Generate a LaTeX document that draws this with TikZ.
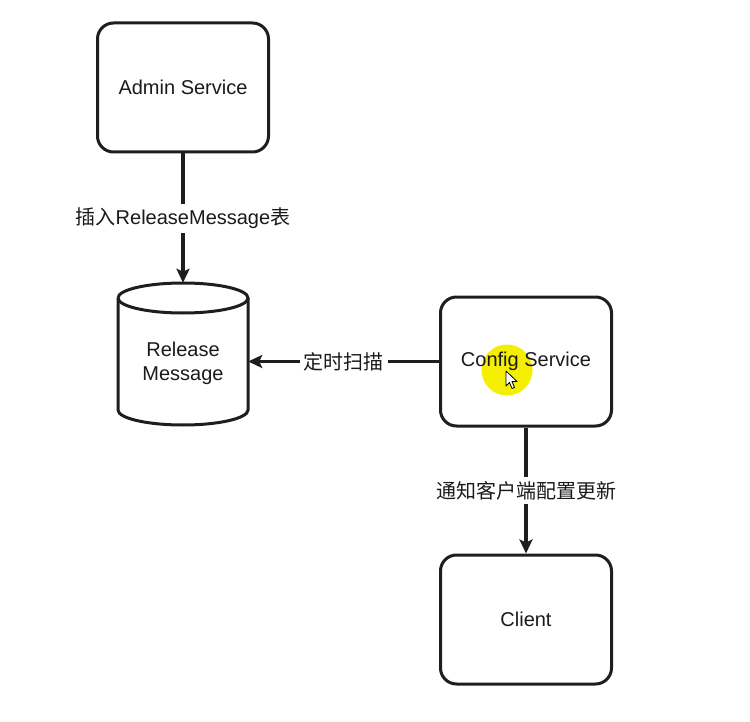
\documentclass[tikz,border=0pt]{standalone}
\usepackage{fontspec}
\setmainfont{Liberation Sans}
\newfontfamily\cjk{Noto Sans CJK SC}
\usetikzlibrary{arrows.meta}
\definecolor{linec}{HTML}{1E1E1E}
\definecolor{textc}{HTML}{1A1A1A}
\definecolor{hilite}{HTML}{F4EE00}
\begin{document}
\begin{tikzpicture}[x=1pt,y=-1pt,
  box/.style={draw=linec, line width=3pt, rounded corners=16pt, minimum width=171pt, minimum height=129pt, font=\fontsize{20}{24}\selectfont, text=textc},
  conn/.style={draw=linec, line width=3.4pt, -{Stealth[length=14pt,width=13pt,inset=3pt]}},
  lbl/.style={fill=white, font=\fontsize{20}{24}\selectfont, text=textc, inner sep=4pt},
  cyl/.style={draw=linec, line width=3pt}]
\useasboundingbox (0,0) rectangle (750,722);
% highlight circle (behind text)
\fill[hilite] (507,370) circle (25.5);
% nodes
\node[box] (admin) at (183,87.5) {Admin Service};
\node[box] (config) at (526,361.5) {Config Service};
\node[box] (client) at (526,619.5) {Client};
% cylinder
\node[minimum width=130pt, minimum height=142pt, inner sep=0pt] (rm) at (183,354) {};
\draw[cyl] (118,298) arc[start angle=180, end angle=540, x radius=65, y radius=15];
\draw[cyl] (118,298) -- (118,410) arc[start angle=180, end angle=360, x radius=65, y radius=-15] -- (248,298);
\node[font=\fontsize{20}{24}\selectfont, text=textc, align=center] (rmtext) at (183,363) {Release\\Message};
% cursor
\draw[fill=white, draw=black, line width=0.8pt, line join=round] (506,371) -- (506,386) -- (509.5,382.5) -- (512,388.5) -- (514.5,387.5) -- (512,381.5) -- (517,381.5) -- cycle;
% connectors
\draw[conn] (admin.south) -- node[lbl] (l1) {{\cjk 插入}ReleaseMessage{\cjk 表}} (rm.north);
\draw[conn] (config.west) -- node[lbl] (l2) {\cjk 定时扫描} (config.west -| rm.east);
\draw[conn] (config.south) -- node[lbl] (l3) {\cjk 通知客户端配置更新} (client.north);
\end{tikzpicture}
\end{document}
